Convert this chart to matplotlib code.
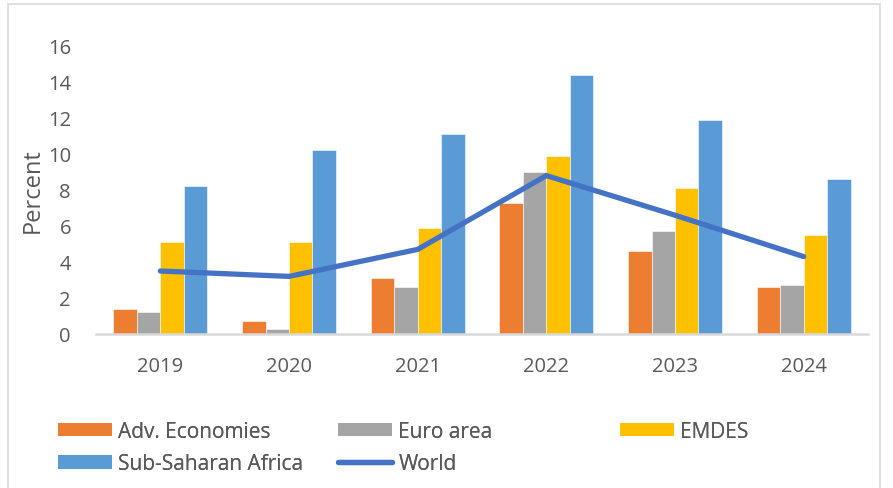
import matplotlib
matplotlib.use("Agg")
import matplotlib.pyplot as plt
import numpy as np
from matplotlib.patches import Rectangle
from matplotlib.lines import Line2D

years = ["2019", "2020", "2021", "2022", "2023", "2024"]
adv = [1.4, 0.7, 3.1, 7.3, 4.6, 2.6]
euro = [1.2, 0.3, 2.6, 9.0, 5.7, 2.7]
emdes = [5.1, 5.1, 5.9, 9.9, 8.1, 5.5]
ssa = [8.2, 10.2, 11.1, 14.4, 11.9, 8.6]
world = [3.5, 3.2, 4.7, 8.8, 6.6, 4.3]
yticks = [0, 2, 4, 6, 8, 10, 12, 14, 16]

series = [
    ("Adv. Economies", adv, "#ED7D31"),
    ("Euro area", euro, "#A5A5A5"),
    ("EMDES", emdes, "#FFC000"),
    ("Sub-Saharan Africa", ssa, "#5B9BD5"),
]
world_color = "#4472C4"
text_color = "#595959"

plt.rcParams["font.family"] = ["Open Sans", "DejaVu Sans"]

fig = plt.figure(figsize=(8.93, 4.89), dpi=100)
ax = fig.add_axes([96 / 893, 1 - 335 / 489, (868 - 96) / 893, (335 - 47) / 489])

x = np.arange(len(years))
w = 0.182
handles = {}
for i, (name, vals, col) in enumerate(series):
    ax.bar(x + (i - 1.5) * w, vals, width=w, color=col, edgecolor="white",
           linewidth=0.4, label=name, zorder=2)
    handles[name] = Rectangle((0, 0), 1, 1, facecolor=col)
ax.plot(x, world, color=world_color, linewidth=3.8, solid_capstyle="round",
        solid_joinstyle="miter", zorder=3)
handles["World"] = Line2D([0], [0], color=world_color, linewidth=3.8, solid_capstyle="round")

ax.set_xlim(-0.5, len(years) - 0.5)
ax.set_ylim(0, 16)
ax.set_yticks(yticks)
ax.set_yticklabels([str(t) for t in yticks])
ax.set_xticks(x)
ax.set_xticklabels(years)
ax.tick_params(axis="both", length=0, labelsize=14.5, colors=text_color)
ax.tick_params(axis="y", pad=18)
ax.tick_params(axis="x", pad=16)
for s in ["top", "right", "left"]:
    ax.spines[s].set_visible(False)
ax.spines["bottom"].set_color("#D9D9D9")
ax.spines["bottom"].set_linewidth(1.8)
ax.set_ylabel("Percent", fontsize=17, color=text_color)
ax.yaxis.set_label_coords(-0.066, 0.5)

# chart frame
fig.add_artist(Rectangle((8 / 893, -0.02), (880 - 8) / 893, 1 - 5 / 489 + 0.02,
                         transform=fig.transFigure, fill=False,
                         edgecolor="#D9D9D9", linewidth=1.2))

legend_kw = dict(frameon=False, fontsize=15, handlelength=2.6, handleheight=0.62,
                 handletextpad=0.3, labelspacing=0.55, borderpad=0, borderaxespad=0,
                 labelcolor=text_color, loc="upper left")
cols = [
    (["Adv. Economies", "Sub-Saharan Africa"], 58),
    (["Euro area", "World"], 338),
    (["EMDES"], 620),
]
for names, xp in cols:
    leg = fig.legend([handles[n] for n in names], names,
                     bbox_to_anchor=(xp / 893, 1 - 422 / 489), **legend_kw)
    fig.add_artist(leg)

fig.savefig("out.png", dpi=100)
